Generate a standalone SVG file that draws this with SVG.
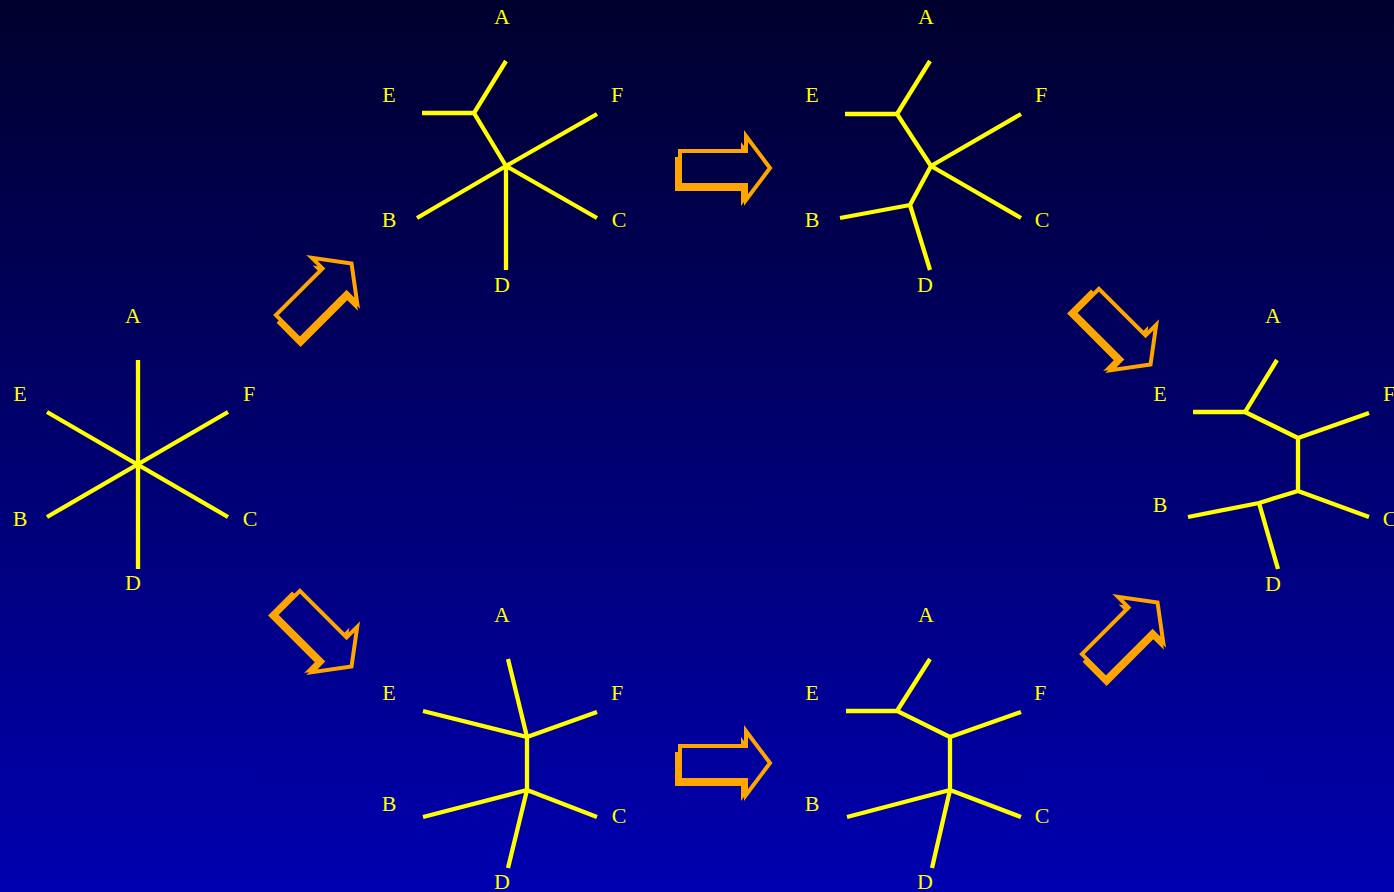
<svg xmlns="http://www.w3.org/2000/svg" xmlns:xlink="http://www.w3.org/1999/xlink" width="1394" height="892" viewBox="0 0 1394 892">
<style>
.br{fill:none;stroke:#FFFF00;stroke-width:4.3;stroke-linejoin:miter;stroke-linecap:butt}
.lb{font-family:"Liberation Serif","Times New Roman",serif;font-size:22px;fill:#FFFF00;text-anchor:middle}
.ao{fill:none;stroke:#FFA500;stroke-width:4;stroke-linejoin:miter}
.as{fill:#FFA500}
</style>
<defs>
<linearGradient id="bg" x1="0" y1="0" x2="0" y2="1">
<stop offset="0" stop-color="#00002D"/>
<stop offset="1" stop-color="#0000B0"/>
</linearGradient>
<polygon id="arrowShape" points="-44,-17 22,-17 22,-32 46,0 22,32 22,17 -44,17"/>
<mask id="hole" maskUnits="userSpaceOnUse" x="-100" y="-100" width="200" height="200">
<rect x="-100" y="-100" width="200" height="200" fill="#fff"/>
<use xlink:href="#arrowShape" fill="#000"/>
</mask>
</defs>
<rect width="1394" height="892" fill="url(#bg)"/>

<g id="tree1">
<path class="br" d="M138,360V569M47,412L228,517M228,412L47,517"/>
<text class="lb" x="133" y="323">A</text>
<text class="lb" x="20" y="401">E</text>
<text class="lb" x="249" y="401">F</text>
<text class="lb" x="20" y="526">B</text>
<text class="lb" x="250" y="526">C</text>
<text class="lb" x="133" y="590">D</text>
</g>

<g id="tree2">
<path class="br" d="M506,61L474,113L506,166M422,113H474M506,166L597,114M506,166L417,218M506,166L597,218M506,166V270"/>
<text class="lb" x="502" y="24">A</text>
<text class="lb" x="389" y="102">E</text>
<text class="lb" x="617" y="102">F</text>
<text class="lb" x="389" y="227">B</text>
<text class="lb" x="619" y="227">C</text>
<text class="lb" x="502" y="292">D</text>
</g>

<g id="tree3">
<path class="br" d="M930,61L897,114L931,166M845,114H897M931,166L1021,114M931,166L1021,218M931,166L910,205M910,205L840,218M910,205L930,270"/>
<text class="lb" x="926" y="24">A</text>
<text class="lb" x="812" y="102">E</text>
<text class="lb" x="1041" y="102">F</text>
<text class="lb" x="812" y="227">B</text>
<text class="lb" x="1042" y="227">C</text>
<text class="lb" x="925" y="292">D</text>
</g>

<g id="tree4">
<path class="br" d="M1277,360L1245,412L1298,438M1193,412H1245M1298,438L1369,413M1298,438V491M1298,491L1369,517M1298,491L1259,503M1259,503L1188,517M1259,503L1278,569"/>
<text class="lb" x="1273" y="323">A</text>
<text class="lb" x="1160" y="401">E</text>
<text class="lb" x="1389" y="401">F</text>
<text class="lb" x="1160" y="512">B</text>
<text class="lb" x="1390" y="526">C</text>
<text class="lb" x="1273" y="591">D</text>
</g>

<g id="tree5">
<path class="br" d="M508,659L527,737M423,711L527,737M527,737L597,712M527,737V790M527,790L423,817M527,790L597,817M527,790L508,868"/>
<text class="lb" x="502" y="622">A</text>
<text class="lb" x="389" y="700">E</text>
<text class="lb" x="617" y="700">F</text>
<text class="lb" x="389" y="811">B</text>
<text class="lb" x="619" y="823">C</text>
<text class="lb" x="502" y="889">D</text>
</g>

<g id="tree6">
<path class="br" d="M930,659L897,711L950,737M846,711H897M950,737L1021,712M950,737V790M950,790L847,817M950,790L1021,817M950,790L932,868"/>
<text class="lb" x="926" y="622">A</text>
<text class="lb" x="812" y="700">E</text>
<text class="lb" x="1040" y="700">F</text>
<text class="lb" x="812" y="811">B</text>
<text class="lb" x="1042" y="823">C</text>
<text class="lb" x="925" y="889">D</text>
</g>

<g id="connectors">
<g transform="translate(319,296) rotate(-45)">
<g mask="url(#hole)"><use xlink:href="#arrowShape" class="as" transform="translate(-5,6)"/></g>
<use xlink:href="#arrowShape" class="ao"/>
</g>
<g transform="translate(724,168)">
<g mask="url(#hole)"><use xlink:href="#arrowShape" class="as" transform="translate(-5,6)"/></g>
<use xlink:href="#arrowShape" class="ao"/>
</g>
<g transform="translate(1118,332) rotate(45)">
<g mask="url(#hole)"><use xlink:href="#arrowShape" class="as" transform="translate(-5,6)"/></g>
<use xlink:href="#arrowShape" class="ao"/>
</g>
<g transform="translate(319,634) rotate(45)">
<g mask="url(#hole)"><use xlink:href="#arrowShape" class="as" transform="translate(-5,6)"/></g>
<use xlink:href="#arrowShape" class="ao"/>
</g>
<g transform="translate(724,763)">
<g mask="url(#hole)"><use xlink:href="#arrowShape" class="as" transform="translate(-5,6)"/></g>
<use xlink:href="#arrowShape" class="ao"/>
</g>
<g transform="translate(1125,635) rotate(-45)">
<g mask="url(#hole)"><use xlink:href="#arrowShape" class="as" transform="translate(-5,6)"/></g>
<use xlink:href="#arrowShape" class="ao"/>
</g>
</g>
</svg>
